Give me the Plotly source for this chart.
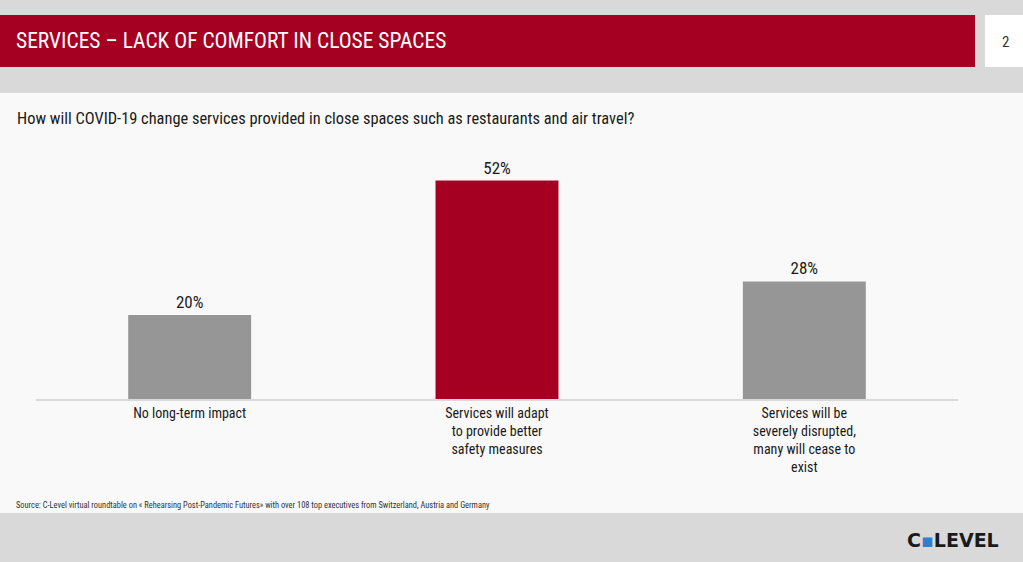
import plotly.graph_objects as go

categories = ["No long-term impact",
              "Services will adapt<br>to provide better<br>safety measures",
              "Services will be<br>severely disrupted,<br>many will cease to<br>exist"]
values = [20, 52, 28]
bar_colors = ["#969696", "#a50021", "#969696"]

W, H = 1023, 562
L, R, T, B = 36, 958, 147, 399
YMAX = 60

def px(x):
    return (x - L) / (R - L)

def py(y):
    return (B - y) / (B - T)

FONT = "Roboto Condensed, Liberation Sans Narrow, DejaVu Sans Condensed, sans-serif"

fig = go.Figure()
fig.add_trace(go.Bar(
    x=categories, y=values, marker_color=bar_colors, marker_line_width=0,
    texttemplate="%{y}%", textposition="outside",
    textfont=dict(size=17, color="#1a1a1a", family=FONT),
    cliponaxis=False, hoverinfo="skip"))

shapes = [
    dict(type="rect", xref="paper", yref="paper", x0=px(0), x1=px(W), y0=py(513), y1=py(93),
         fillcolor="#f9f9f9", line_width=0, layer="below"),
    dict(type="rect", xref="paper", yref="paper", x0=px(0), x1=px(975), y0=py(67), y1=py(15),
         fillcolor="#a50021", line_width=0, layer="below"),
    dict(type="rect", xref="paper", yref="paper", x0=px(985), x1=px(W), y0=py(67), y1=py(15),
         fillcolor="#ffffff", line_width=0, layer="below"),
]

annotations = [
    dict(text="SERVICES – LACK OF COMFORT IN CLOSE SPACES", x=px(14), y=py(41), xanchor="left", yanchor="middle",
         font=dict(size=21.5, color="#ffffff", family=FONT), showarrow=False, xref="paper", yref="paper"),
    dict(text="2", x=px(1005), y=py(42), xanchor="center", yanchor="middle",
         font=dict(size=15, color="#333333", family=FONT), showarrow=False, xref="paper", yref="paper"),
    dict(text="How will COVID-19 change services provided in close spaces such as restaurants and air travel?",
         x=px(15), y=py(118), xanchor="left", yanchor="middle",
         font=dict(size=16.4, color="#1a1a1a", family=FONT), showarrow=False, xref="paper", yref="paper"),
    dict(text="Source: C-Level virtual roundtable on « Rehearsing Post-Pandemic Futures» with over 108 top executives from Switzerland, Austria and Germany",
         x=px(14), y=py(505), xanchor="left", yanchor="middle",
         font=dict(size=8.4, color="#333333", family=FONT), showarrow=False, xref="paper", yref="paper"),
    dict(text="<b>C<span style='color:#2f7fd0'>▪</span>LEVEL</b>", x=px(953), y=py(540), xanchor="center", yanchor="middle",
         font=dict(size=19, color="#1a1a1a", family="DejaVu Sans, Arial, sans-serif"), showarrow=False,
         xref="paper", yref="paper"),
]

fig.update_layout(
    width=W, height=H,
    margin=dict(l=L, r=W - R, t=T, b=H - B, pad=0),
    paper_bgcolor="#d9d9d9", plot_bgcolor="rgba(0,0,0,0)",
    bargap=0.6, showlegend=False,
    shapes=shapes, annotations=annotations,
    xaxis=dict(showline=True, linecolor="#d9d9d9", linewidth=2, ticks="", showgrid=False,
               tickfont=dict(size=14, color="#1a1a1a", family=FONT), fixedrange=True),
    yaxis=dict(range=[0, YMAX], visible=False, showgrid=False, zeroline=False, fixedrange=True),
    font=dict(family=FONT),
)

fig.write_html("out.html", config={"displayModeBar": False})
